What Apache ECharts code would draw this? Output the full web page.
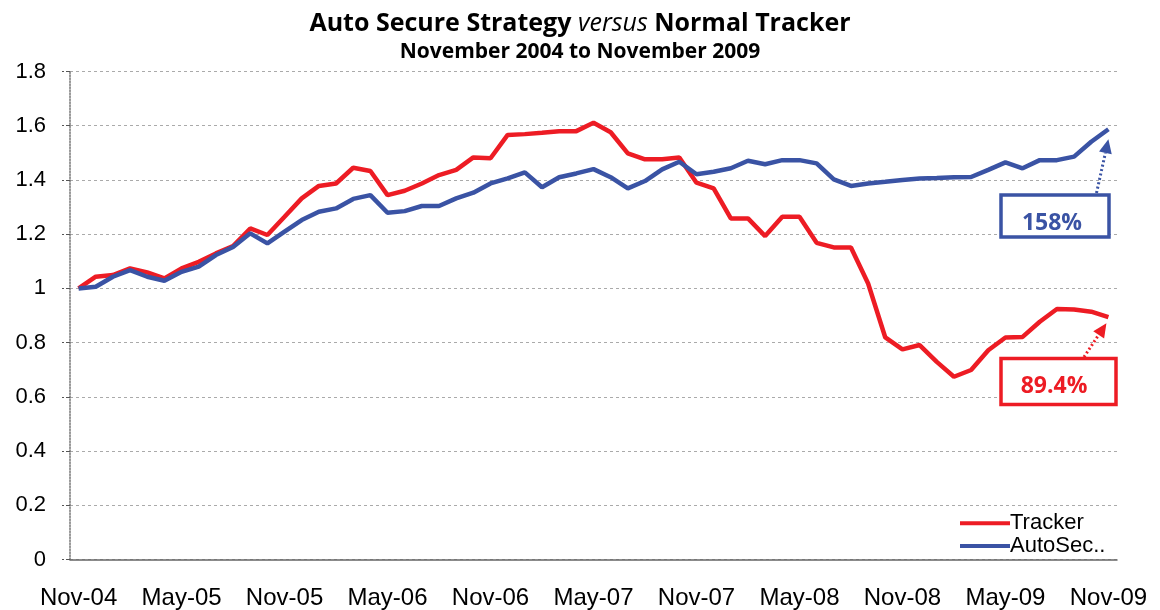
<!DOCTYPE html>
<html lang="en">
  <head>
    <meta charset="UTF-8" />
    <title>Auto Secure Strategy versus Normal Tracker</title>
    <script src="https://cdn.jsdelivr.net/npm/echarts@6.0.0/dist/echarts.min.js"></script>
    <style>
      html, body { margin: 0; padding: 0; background: #fff; }
    </style>
  </head>
  <body>
    <div id="main" style="width: 1160px; height: 610px"></div>
    <script type="text/javascript">
      // months, Nov-04 .. Nov-09
      const months = [
        "Nov-04", "Dec-04", "Jan-05", "Feb-05", "Mar-05", "Apr-05", "May-05", "Jun-05", "Jul-05", "Aug-05", "Sep-05", "Oct-05",
        "Nov-05", "Dec-05", "Jan-06", "Feb-06", "Mar-06", "Apr-06", "May-06", "Jun-06", "Jul-06", "Aug-06", "Sep-06", "Oct-06",
        "Nov-06", "Dec-06", "Jan-07", "Feb-07", "Mar-07", "Apr-07", "May-07", "Jun-07", "Jul-07", "Aug-07", "Sep-07", "Oct-07",
        "Nov-07", "Dec-07", "Jan-08", "Feb-08", "Mar-08", "Apr-08", "May-08", "Jun-08", "Jul-08", "Aug-08", "Sep-08", "Oct-08",
        "Nov-08", "Dec-08", "Jan-09", "Feb-09", "Mar-09", "Apr-09", "May-09", "Jun-09", "Jul-09", "Aug-09", "Sep-09", "Oct-09",
        "Nov-09",
      ];

      const tracker = [
        1.000, 1.043, 1.049, 1.074, 1.059, 1.037, 1.074, 1.098, 1.129, 1.156, 1.221, 1.197,
        1.264, 1.332, 1.378, 1.387, 1.445, 1.433, 1.344, 1.360, 1.387, 1.418, 1.437, 1.483,
        1.480, 1.566, 1.569, 1.574, 1.580, 1.580, 1.611, 1.576, 1.498, 1.476, 1.476, 1.483,
        1.390, 1.369, 1.258, 1.258, 1.193, 1.264, 1.264, 1.168, 1.151, 1.151, 1.018, 0.819,
        0.775, 0.791, 0.729, 0.674, 0.699, 0.772, 0.819, 0.821, 0.877, 0.924, 0.922, 0.914,
        0.894,
      ];

      const autoSec = [
        1.000, 1.006, 1.043, 1.067, 1.043, 1.028, 1.061, 1.080, 1.123, 1.153, 1.203, 1.166,
        1.209, 1.252, 1.283, 1.295, 1.330, 1.344, 1.279, 1.285, 1.304, 1.304, 1.332, 1.353,
        1.387, 1.406, 1.428, 1.373, 1.410, 1.424, 1.440, 1.410, 1.369, 1.396, 1.439, 1.467,
        1.421, 1.430, 1.443, 1.471, 1.458, 1.473, 1.473, 1.461, 1.402, 1.378, 1.387, 1.393,
        1.400, 1.405, 1.407, 1.410, 1.411, 1.437, 1.465, 1.443, 1.473, 1.473, 1.486, 1.541,
        1.587,
      ];

      const yTicks = [0, 0.2, 0.4, 0.6, 0.8, 1, 1.2, 1.4, 1.6, 1.8];

      const RED = "#ED1C24";
      const BLUE = "#3A53A4";

      let myChart = echarts.init(document.getElementById("main"));

      let options = {
        animation: false,
        title: {
          text: "{b|Auto Secure Strategy }{i|versus}{b| Normal Tracker}",
          subtext: "November 2004 to November 2009",
          left: "center",
          top: 6,
          itemGap: 6,
          textStyle: {
            fontWeight: "normal",
            rich: {
              b: { fontFamily: "Open Sans", fontWeight: "bold", fontSize: 25, color: "#000" },
              i: { fontFamily: "Open Sans", fontStyle: "italic", fontWeight: "normal", fontSize: 25, color: "#000" },
            },
          },
          subtextStyle: {
            fontFamily: "Open Sans",
            fontWeight: "bold",
            fontSize: 21,
            color: "#000",
          },
        },
        legend: {
          orient: "vertical",
          left: 955,
          top: 507,
          icon: "rect",
          itemWidth: 50,
          itemHeight: 4,
          itemGap: 0,
          textStyle: {
            fontFamily: "Liberation Sans",
            fontSize: 22,
            lineHeight: 22.6,
            color: "#000",
            padding: [0, 0, 0, -5],
          },
          data: ["Tracker", "AutoSec.."],
        },
        grid: { left: 70, right: 43, top: 71.5, bottom: 50.5, containLabel: false, outerBoundsMode: "none" },
        xAxis: {
          type: "category",
          data: months,
          boundaryGap: true,
          axisLine: { lineStyle: { color: "#666", width: 1.5 } },
          axisTick: { interval: 0, length: 6, lineStyle: { color: "#444" } },
          axisLabel: {
            interval: 5,
            margin: 27,
            fontFamily: "Liberation Sans",
            fontSize: 24,
            color: "#000",
          },
          splitLine: { show: false },
        },
        yAxis: {
          type: "value",
          min: 0,
          max: 1.8,
          interval: 0.2,
          axisLine: { show: true, lineStyle: { color: "#777", type: "dotted", width: 1.5 } },
          axisTick: { show: true, length: 8, lineStyle: { color: "#555", type: "dashed" } },
          axisLabel: {
            margin: 24,
            fontFamily: "Liberation Sans",
            fontSize: 22,
            color: "#000",
            formatter: (v) => String(yTicks.find((t) => Math.abs(t - v) < 1e-6) ?? v),
          },
          splitLine: { lineStyle: { color: "#aaa", type: [3, 3], width: 1 } },
        },
        series: [
          {
            name: "Tracker",
            type: "line",
            data: tracker,
            symbol: "none",
            color: RED,
            lineStyle: { color: RED, width: 4.5 },
          },
          {
            name: "AutoSec..",
            type: "line",
            data: autoSec,
            symbol: "none",
            color: BLUE,
            lineStyle: { color: BLUE, width: 4.5 },
          },
        ],
      };

      myChart.setOption(options);

      // dotted arrow from the label box to the end of a line
      function arrow(from, tip, color) {
        const dx = tip[0] - from[0];
        const dy = tip[1] - from[1];
        const len = Math.sqrt(dx * dx + dy * dy);
        const ux = dx / len, uy = dy / len;
        const L = 14, W = 13;
        const bx = tip[0] - ux * L, by = tip[1] - uy * L;
        return [
          {
            type: "line",
            shape: { x1: from[0], y1: from[1], x2: bx, y2: by },
            style: { stroke: color, lineWidth: 3, lineDash: [2, 2.5] },
          },
          {
            type: "polygon",
            shape: {
              points: [
                [tip[0], tip[1]],
                [bx - uy * W / 2, by + ux * W / 2],
                [bx + uy * W / 2, by - ux * W / 2],
              ],
            },
            style: { fill: color },
          },
        ];
      }

      const last = months.length - 1;
      const endBlue = myChart.convertToPixel({ xAxisIndex: 0, yAxisIndex: 0 }, [last, autoSec[last]]);
      const endRed = myChart.convertToPixel({ xAxisIndex: 0, yAxisIndex: 0 }, [last, tracker[last]]);

      const boxFont = 'bold 23px "Open Sans"';
      myChart.setOption({
        graphic: [
          ...arrow([1096.5, 193], [endBlue[0], endBlue[1] + 10], BLUE),
          ...arrow([1084, 357], [endRed[0] - 2, endRed[1] + 6], RED),
          {
            type: "rect",
            shape: { x: 1001, y: 195, width: 108, height: 42 },
            style: { fill: "#fff", stroke: BLUE, lineWidth: 3.5 },
          },
          {
            type: "text",
            x: 1052,
            y: 223,
            style: { text: "158%", font: boxFont, fill: BLUE, align: "center", verticalAlign: "middle" },
          },
          {
            type: "rect",
            shape: { x: 1001, y: 358.5, width: 115, height: 46 },
            style: { fill: "#fff", stroke: RED, lineWidth: 3.5 },
          },
          {
            type: "text",
            x: 1054,
            y: 386,
            style: { text: "89.4%", font: boxFont, fill: RED, align: "center", verticalAlign: "middle" },
          },
        ],
      });
    </script>
  </body>
</html>
